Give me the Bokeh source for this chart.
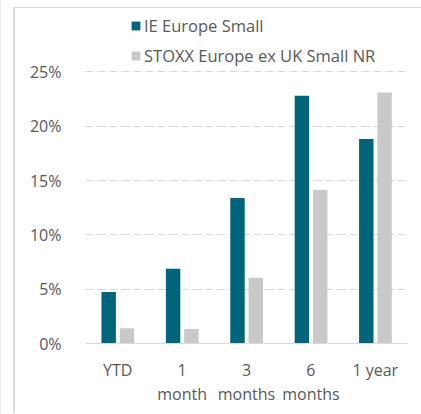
from bokeh.plotting import figure
from bokeh.layouts import column
from bokeh.models import FactorRange, Range1d, FixedTicker, Legend, LegendItem, CustomJSTickFormatter
from bokeh.transform import dodge
from bokeh.embed import file_html
from bokeh.resources import INLINE

categories = ["YTD", "1\nmonth", "3\nmonths", "6\nmonths", "1 year"]
ie_europe_small = [4.75, 6.87, 13.38, 22.8, 18.81]
stoxx_europe_ex_uk = [1.41, 1.34, 6.04, 14.14, 23.11]
series_names = ["IE Europe Small", "STOXX Europe ex UK Small NR"]
y_ticks = [0, 5, 10, 15, 20, 25]

TEAL = "#00657A"
GREY = "#C9C9C9"
TXT = "#595959"
FONT = "Open Sans"

p = figure(
    x_range=FactorRange(*categories, range_padding=0),
    y_range=Range1d(0, 30.37),
    width=406, height=405,
    output_backend="svg", toolbar_location=None,
    min_border_left=70, min_border_right=14, min_border_top=5, min_border_bottom=70,
)
p.styles = {"border-left": "1.5px solid #DCDCDC"}

src = dict(cat=categories, a=ie_europe_small, b=stoxx_europe_ex_uk)
r1 = p.vbar(x=dodge("cat", -0.14, range=p.x_range), top="a", width=0.224, source=src,
            fill_color=TEAL, line_color=None)
r2 = p.vbar(x=dodge("cat", 0.144, range=p.x_range), top="b", width=0.224, source=src,
            fill_color=GREY, line_color=None)

p.outline_line_color = None
p.background_fill_color = "white"
p.border_fill_alpha = 0

p.xgrid.grid_line_color = None
p.ygrid.grid_line_color = "#D9D9D9"
p.ygrid.grid_line_dash = "8 4"
p.ygrid.grid_line_width = 1
p.ygrid.ticker = FixedTicker(ticks=y_ticks[1:])

p.yaxis.ticker = FixedTicker(ticks=y_ticks)
p.yaxis.formatter = CustomJSTickFormatter(code="return tick + '%';")
p.yaxis.axis_line_color = None
p.yaxis.major_tick_line_color = None
p.yaxis.minor_tick_line_color = None
p.yaxis.major_label_standoff = 18
p.yaxis.major_label_text_font = FONT
p.yaxis.major_label_text_font_size = "16px"
p.yaxis.major_label_text_color = TXT

p.xaxis.axis_line_color = "#D9D9D9"
p.xaxis.axis_line_width = 1
p.xaxis.major_tick_line_color = None
p.xaxis.minor_tick_line_color = None
p.xaxis.major_label_standoff = 9
p.xaxis.major_label_text_font = FONT
p.xaxis.major_label_text_font_size = "16px"
p.xaxis.major_label_text_color = TXT
p.xaxis.major_label_text_line_height = 1.12

legend = Legend(items=[LegendItem(label=series_names[0], renderers=[r1]),
                       LegendItem(label=series_names[1], renderers=[r2])],
                location=(45, 276))
legend.margin = 0
legend.padding = 0
legend.border_line_color = None
legend.background_fill_alpha = 0
legend.glyph_width = 11
legend.glyph_height = 11
legend.label_standoff = 3
legend.label_height = 20
legend.spacing = 7
legend.label_text_font = FONT
legend.label_text_font_size = "16.5px"
legend.label_text_color = TXT
p.add_layout(legend, "center")

inner = column(p, width=408, margin=(7, 0, 0, 12),
               styles={"border-left": "1.5px solid #DCDCDC", "border-top": "1.5px solid #DCDCDC"})
lay = column(inner, width=421, styles={"border-left": "1px solid #E8E8E8"})
open("out.html", "w").write(file_html(lay, INLINE))
